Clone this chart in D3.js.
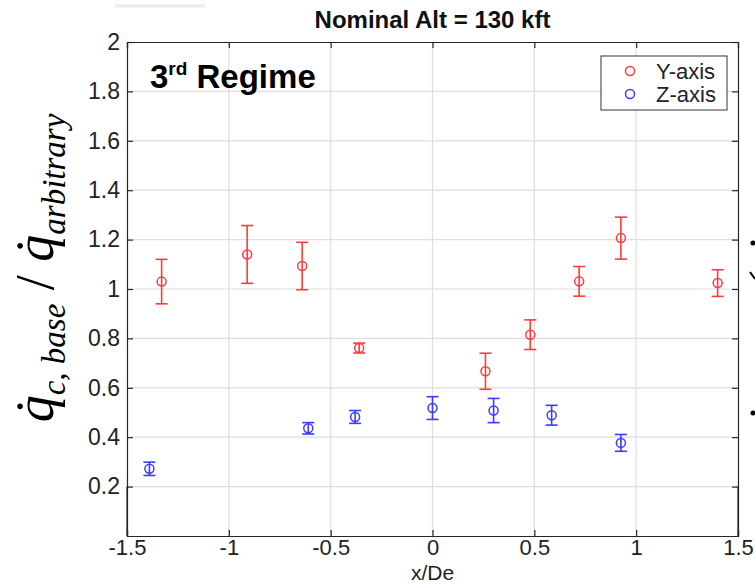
<!DOCTYPE html>
<html>
<head>
<meta charset="utf-8">
<script src="https://cdn.jsdelivr.net/npm/d3@7"></script>
<style>
  html, body { margin: 0; padding: 0; background: #fff; }
  svg { display: block; }
</style>
</head>
<body>
<div id="chart"></div>
<script>
// ---- data ----
const xTicks = [-1.5, -1, -0.5, 0, 0.5, 1, 1.5];
const yTicks = [0.2, 0.4, 0.6, 0.8, 1, 1.2, 1.4, 1.6, 1.8, 2];

const yAxisX   = [-1.33, -0.91, -0.64, -0.36, 0.26, 0.48, 0.72, 0.925, 1.40];
const yAxisVal = [1.03, 1.14, 1.093, 0.761, 0.667, 0.815, 1.031, 1.206, 1.024];
const yAxisErr = [0.09, 0.117, 0.096, 0.02, 0.073, 0.06, 0.06, 0.085, 0.054];

const zAxisX   = [-1.39, -0.61, -0.38, 0.0, 0.30, 0.585, 0.925];
const zAxisVal = [0.272, 0.436, 0.482, 0.518, 0.508, 0.489, 0.377];
const zAxisErr = [0.027, 0.023, 0.026, 0.046, 0.049, 0.04, 0.034];

const seriesNames = ["Y-axis", "Z-axis"];
const titleText = "Nominal Alt = 130 kft";
const xLabelText = "x/De";

// ---- layout ----
const W = 755, H = 584;
const m = { left: 127, right: 17, top: 42, bottom: 48 };
const colors = ["#ff3b3b", "#3b3bff"];
const axisColor = "#262626";
const sans = "'Liberation Sans', Arial, Helvetica, sans-serif";

const svg = d3.select("#chart").append("svg")
  .attr("width", W).attr("height", H)
  .style("font-family", sans);

const x = d3.scaleLinear().domain([-1.5, 1.5]).range([m.left, W - m.right]);
const y = d3.scaleLinear().domain([0, 2]).range([H - m.bottom, m.top]);

// faint artefact line top-left
svg.append("line").attr("x1", 115).attr("x2", 205).attr("y1", 6).attr("y2", 6)
  .attr("stroke", "#ececec").attr("stroke-width", 3);

// grid
const grid = svg.append("g");
grid.selectAll(".gx").data(xTicks.slice(1, -1)).enter().append("line")
  .attr("x1", d => x(d)).attr("x2", d => x(d))
  .attr("y1", y(0)).attr("y2", y(2))
  .attr("stroke", "#dedede").attr("stroke-width", 1.2);
grid.selectAll(".gy").data(yTicks.slice(0, -1)).enter().append("line")
  .attr("x1", x(-1.5)).attr("x2", x(1.5))
  .attr("y1", d => y(d)).attr("y2", d => y(d))
  .attr("stroke", "#dedede").attr("stroke-width", 1.2);

// axes (inward ticks, MATLAB style)
const fs = 22;
const fmt = d => String(d);
const xAxis = svg.append("g").attr("transform", `translate(0,${y(0)})`)
  .call(d3.axisBottom(x).tickValues(xTicks).tickSize(-6).tickPadding(3).tickFormat(fmt));
const xTop = svg.append("g").attr("transform", `translate(0,${y(2)})`)
  .call(d3.axisTop(x).tickValues(xTicks).tickSize(-6).tickFormat(""));
const yAxis = svg.append("g").attr("transform", `translate(${x(-1.5)},0)`)
  .call(d3.axisLeft(y).tickValues(yTicks).tickSize(-6).tickPadding(7).tickFormat(fmt));
const yRight = svg.append("g").attr("transform", `translate(${x(1.5)},0)`)
  .call(d3.axisRight(y).tickValues(yTicks).tickSize(-6).tickFormat(""));
[xAxis, xTop, yAxis, yRight].forEach(g => {
  g.select(".domain").attr("stroke", axisColor).attr("stroke-width", 1.2);
  g.selectAll(".tick line").attr("stroke", axisColor).attr("stroke-width", 1.2);
  g.selectAll("text").attr("fill", "#222").style("font-size", fs + "px")
    .style("font-family", sans);
});
yAxis.selectAll("text").style("font-size", "23px");
// extend side frame lines to y=0
svg.append("line").attr("x1", x(-1.5)).attr("x2", x(-1.5)).attr("y1", y(0)).attr("y2", y(0.2))
  .attr("stroke", axisColor).attr("stroke-width", 1.2);
svg.append("line").attr("x1", x(1.5)).attr("x2", x(1.5)).attr("y1", y(0)).attr("y2", y(0.2))
  .attr("stroke", axisColor).attr("stroke-width", 1.2);

// data
function drawSeries(xs, vs, es, color) {
  const g = svg.append("g");
  const data = xs.map((d, i) => ({ x: d, v: vs[i], e: es[i] }));
  const cap = 6;
  g.selectAll(".eb").data(data).enter().append("line")
    .attr("x1", d => x(d.x)).attr("x2", d => x(d.x))
    .attr("y1", d => y(d.v - d.e)).attr("y2", d => y(d.v + d.e))
    .attr("stroke", color).attr("stroke-width", 1.6);
  g.selectAll(".capT").data(data).enter().append("line")
    .attr("x1", d => x(d.x) - cap).attr("x2", d => x(d.x) + cap)
    .attr("y1", d => y(d.v + d.e)).attr("y2", d => y(d.v + d.e))
    .attr("stroke", color).attr("stroke-width", 1.6);
  g.selectAll(".capB").data(data).enter().append("line")
    .attr("x1", d => x(d.x) - cap).attr("x2", d => x(d.x) + cap)
    .attr("y1", d => y(d.v - d.e)).attr("y2", d => y(d.v - d.e))
    .attr("stroke", color).attr("stroke-width", 1.6);
  g.selectAll(".pt").data(data).enter().append("circle")
    .attr("cx", d => x(d.x)).attr("cy", d => y(d.v)).attr("r", 4.5)
    .attr("fill", "none").attr("stroke", color).attr("stroke-width", 1.5);
}
drawSeries(yAxisX, yAxisVal, yAxisErr, colors[0]);
drawSeries(zAxisX, zAxisVal, zAxisErr, colors[1]);

// title
svg.append("text").attr("x", (x(-1.5) + x(1.5)) / 2).attr("y", 28)
  .attr("text-anchor", "middle").style("font-size", "24px").style("font-weight", "bold")
  .attr("fill", "#111").text(titleText);

// x label
svg.append("text").attr("x", (x(-1.5) + x(1.5)) / 2).attr("y", 579.5)
  .attr("text-anchor", "middle").style("font-size", "21px").attr("fill", "#222").text(xLabelText);

// 3rd Regime annotation
const ann = svg.append("text").attr("x", 150).attr("y", 88)
  .style("font-size", "33px").style("font-weight", "bold").attr("fill", "#000");
ann.append("tspan").text("3");
ann.append("tspan").attr("dy", -13).style("font-size", "19px").text("rd");
ann.append("tspan").attr("dy", 13).text(" Regime");

// legend
const lg = svg.append("g");
lg.append("rect").attr("x", 601).attr("y", 56).attr("width", 126).attr("height", 54)
  .attr("fill", "#fff").attr("stroke", "#333").attr("stroke-width", 1);
seriesNames.forEach((name, i) => {
  const cy = 71 + i * 23;
  lg.append("circle").attr("cx", 630).attr("cy", cy).attr("r", 4.5)
    .attr("fill", "none").attr("stroke", colors[i]).attr("stroke-width", 1.5);
  lg.append("text").attr("x", 656).attr("y", cy + 8).style("font-size", "22px")
    .attr("fill", "#222").text(name);
});

// y label (math)
const t = svg.append("text").attr("transform", "translate(53,268) rotate(-90)")
  .attr("text-anchor", "middle")
  .style("font-family", "'Liberation Serif', 'Times New Roman', serif")
  .style("font-style", "italic").attr("fill", "#000");
t.append("tspan").style("font-size", "54px").text("q\u0307");
t.append("tspan").attr("dy", 12).style("font-size", "33px").text("c, base");
t.append("tspan").attr("dy", -12).style("font-size", "54px").style("font-style", "normal").text(" / ");
t.append("tspan").style("font-size", "54px").text("q\u0307");
t.append("tspan").attr("dy", 12).style("font-size", "33px").text("arbitrary");

// fragments of the neighbouring figure's label at the right edge
const frag = svg.append("g").attr("fill", "#000").attr("stroke", "#000");
frag.append("circle").attr("cx", 753).attr("cy", 243).attr("r", 2.5).attr("stroke", "none");
frag.append("line").attr("x1", 750).attr("y1", 272).attr("x2", 755).attr("y2", 279).attr("stroke-width", 2);
frag.append("circle").attr("cx", 753).attr("cy", 413).attr("r", 2.5).attr("stroke", "none");
</script>
</body>
</html>
